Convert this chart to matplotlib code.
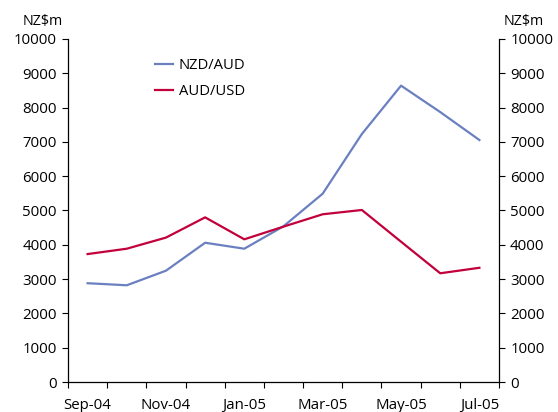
import matplotlib.pyplot as plt
import numpy as np

plt.rcParams['font.family'] = ['Open Sans', 'DejaVu Sans']

months = ['Sep-04', 'Oct-04', 'Nov-04', 'Dec-04', 'Jan-05', 'Feb-05',
          'Mar-05', 'Apr-05', 'May-05', 'Jun-05', 'Jul-05']
nzd_aud = [2880, 2820, 3245, 4060, 3886, 4540, 5490, 7230, 8640, 7870, 7055]
aud_usd = [3730, 3886, 4210, 4800, 4160, 4530, 4890, 5015, 4090, 3170, 3330]

x = np.arange(len(months))

fig = plt.figure(figsize=(5.58, 4.12), dpi=100)
ax = fig.add_axes([68 / 558, 1 - 382 / 412, (499 - 68) / 558, (382 - 39) / 412])

ax.plot(x, nzd_aud, color='#6b80c0', lw=1.6, label='NZD/AUD')
ax.plot(x, aud_usd, color='#c2003b', lw=1.6, label='AUD/USD')

ax.set_xlim(-0.5, len(months) - 0.5)
ax.set_ylim(0, 10000)
ax.set_yticks(range(0, 10001, 1000))
ax.set_xticks(np.arange(-0.5, len(months), 1))
ax.set_xticklabels([])
ax.set_xticks(x[::2], minor=True)
ax.set_xticklabels(months[::2], minor=True)
ax.tick_params(axis='x', which='minor', length=0, pad=11.5, labelsize=10.8)
ax.tick_params(axis='x', which='major', direction='out', length=4, width=0.8)
ax.tick_params(axis='y', direction='out', length=4, width=0.8, labelsize=10.8,
               left=True, right=True, labelleft=True, labelright=True, pad=4)

ax.spines['top'].set_visible(False)
for s in ['left', 'right', 'bottom']:
    ax.spines[s].set_linewidth(0.9)

ax.text(-0.013, 1.03, 'NZ$m', transform=ax.transAxes, ha='right', va='bottom', fontsize=10.3)
ax.text(1.01, 1.03, 'NZ$m', transform=ax.transAxes, ha='left', va='bottom', fontsize=10.3)

ax.legend(loc='upper left', bbox_to_anchor=(0.17, 0.982), frameon=False, fontsize=10.6,
          handlelength=1.25, handletextpad=0.4, labelspacing=0.75)

fig.savefig('out.png', dpi=100)
